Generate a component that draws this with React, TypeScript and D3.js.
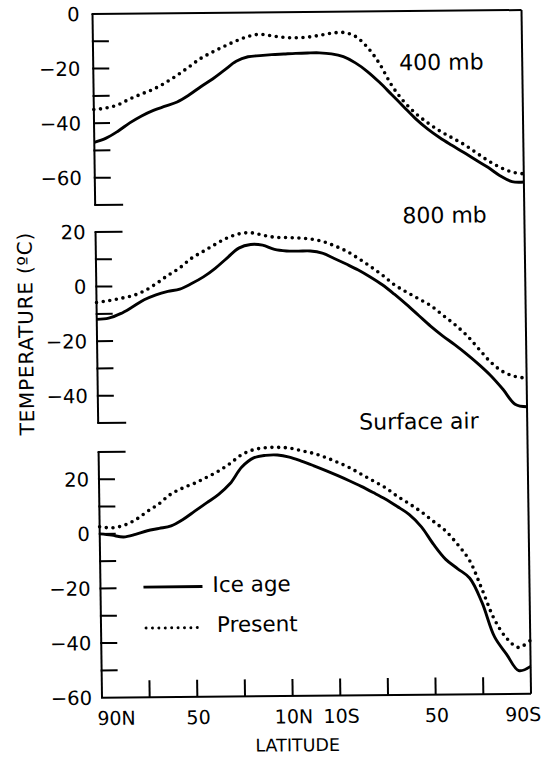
import React from 'react';
import * as d3 from 'd3';

// Zonal-mean temperature profiles, 90N -> 90S, every 5 degrees of latitude
const LATITUDES = [
  90, 85, 80, 75, 70, 65, 60, 55, 50, 45, 40, 35, 30, 25, 20, 15, 10, 5, 0,
  -5, -10, -15, -20, -25, -30, -35, -40, -45, -50, -55, -60, -65, -70, -75, -80, -85, -90,
];

// 400 mb level (°C)
const ICE_AGE_400 = [
  -47, -45.5, -43, -40, -37.5, -35.5, -34, -32.5, -30, -27, -24.2, -21, -17.8, -16.2, -15.8, -15.5, -15.3, -15.1, -15,
  -15, -15.4, -16.5, -18.8, -22, -26, -30.5, -35, -39.5, -43.3, -46.5, -49.3, -52, -54.8, -57.5, -60.6, -62.8, -63,
];
const PRESENT_400 = [
  -35, -34.5, -33.4, -31.3, -29.5, -27.8, -25.5, -22.8, -19.8, -16.7, -14.4, -12.3, -10.4, -8.8, -8, -8.6, -9.2, -9.4, -9.2,
  -8.6, -7.9, -7.6, -9, -13, -19, -27, -33, -37.5, -41, -44, -46.5, -49, -52, -55, -57.5, -59.3, -60,
];

// 800 mb level (°C)
const ICE_AGE_800 = [
  -12, -11.6, -10, -7.6, -5, -3.2, -2, -1.2, 0.8, 3.2, 6.3, 10, 13.6, 14.9, 14.6, 13, 12.4, 12.3, 12.3,
  11.5, 9.5, 7.4, 5.2, 2.6, -0.3, -3.8, -7.6, -11.6, -15.6, -19.2, -22.5, -26, -29.8, -34, -39, -44.5, -45.5,
];
const PRESENT_800 = [
  -5.8, -5.2, -4.4, -3.5, -1.8, 0.8, 3.8, 6.5, 10, 12.5, 15, 17.3, 18.8, 19.2, 18.3, 17.5, 17.3, 17.1, 16.7,
  15.8, 14.2, 12.2, 9.5, 6.5, 3.3, -0.3, -3, -5.5, -8, -11.5, -15, -19, -24, -29, -32.5, -34.3, -35,
];

// Surface air (°C)
const ICE_AGE_SURFACE = [
  0, -0.5, -1.2, -0.3, 1, 1.8, 2.7, 5, 8, 11, 14, 18, 24, 27.3, 28.2, 28.3, 27.5, 26, 24.3,
  22.5, 20.6, 18.6, 16.5, 14.2, 11.8, 9, 6, 1.5, -5, -10.5, -14, -17.5, -26.5, -39, -45.5, -51.5, -50,
];
const PRESENT_SURFACE = [
  2.6, 2.2, 3, 5, 8, 10.8, 14.3, 16.5, 18.2, 20.3, 22.5, 25.3, 28.5, 30.3, 31, 31.1, 30.8, 29.8, 28.8,
  27.3, 25.5, 23.5, 21, 18.5, 16, 12.8, 10, 7, 3.5, 0, -5, -11, -21.5, -32.5, -39.5, -43, -40.5,
];

const X_TICKS = [70, 50, 30, 10, -10, -30, -50, -70];
const X_TICK_LABELS = [
  { lat: 90, text: '90N' },
  { lat: 50, text: '50' },
  { lat: 10, text: '10N' },
  { lat: -10, text: '10S' },
  { lat: -50, text: '50' },
  { lat: -90, text: '90S' },
];

const LEVEL_NAMES = ['400 mb', '800 mb', 'Surface air'];
const LEGEND_LABELS = ['Ice age', 'Present'];

const FONT = '"DejaVu Sans", "Liberation Sans", sans-serif';
const PX_PER_DEG = 2.73;
const LEFT = 102;
const RIGHT = 531;

const x = d3.scaleLinear().domain([90, -90]).range([LEFT, RIGHT]);

type Panel = {
  name: string;
  ice: number[];
  present: number[];
  max: number;
  min: number;
  top: number;
  labels: number[];
  labelGap: number;
  nameX: number;
  nameY: number;
};

const PANELS: Panel[] = [
  { name: LEVEL_NAMES[0], ice: ICE_AGE_400, present: PRESENT_400, max: 0, min: -70, top: 14,
    labels: [0, -20, -40, -60], labelGap: 13, nameX: 408, nameY: 73 },
  { name: LEVEL_NAMES[1], ice: ICE_AGE_800, present: PRESENT_800, max: 20, min: -50, top: 232,
    labels: [20, 0, -20, -40], labelGap: 10, nameX: 409, nameY: 226 },
  { name: LEVEL_NAMES[2], ice: ICE_AGE_SURFACE, present: PRESENT_SURFACE, max: 30, min: -60, top: 452,
    labels: [20, 0, -20, -40, -60], labelGap: 10, nameX: 363, nameY: 432 },
];

const fmt = (v: number) => (v < 0 ? `\u2212${Math.abs(v)}` : `${v}`);

function PanelView({ p, isTop, isBottom }: { p: Panel; isTop: boolean; isBottom: boolean }) {
  const y = d3.scaleLinear().domain([p.max, p.min]).range([p.top, p.top + (p.max - p.min) * PX_PER_DEG]);
  const line = d3
    .line<number>()
    .x((_, i) => x(LATITUDES[i]))
    .y((d) => y(d))
    .curve(d3.curveCatmullRom.alpha(0.5));
  const ticks = d3.range(p.max, p.min - 1, -10);
  return (
    <g>
      <line x1={LEFT} x2={LEFT} y1={y(p.max)} y2={y(p.min)} stroke="#000" strokeWidth={2} />
      {ticks.map((v) => {
        let len = 16;
        if (v === p.max) len = isTop ? RIGHT - LEFT : 27;
        else if (v === p.min) len = isBottom ? RIGHT - LEFT : 28;
        return <line key={v} x1={LEFT - 1} x2={LEFT + len} y1={y(v)} y2={y(v)} stroke="#000" strokeWidth={2} />;
      })}
      {p.labels.map((v) => (
        <text key={v} x={LEFT - p.labelGap} y={y(v)} dy="0.36em" textAnchor="end" fontSize={19.5} fontFamily={FONT}>
          {fmt(v)}
        </text>
      ))}
      <path d={line(p.ice) ?? ''} fill="none" stroke="#000" strokeWidth={2.9} strokeLinejoin="round" />
      <path
        d={line(p.present) ?? ''}
        fill="none"
        stroke="#000"
        strokeWidth={3.6}
        strokeLinecap="round"
        strokeDasharray="0 6.7"
      />
      <text x={p.nameX} y={p.nameY} fontSize={22} fontFamily={FONT}>
        {p.name}
      </text>
    </g>
  );
}

export default function App() {
  const last = PANELS[PANELS.length - 1];
  const bottomY = last.top + (last.max - last.min) * PX_PER_DEG;
  return (
    <svg
      width={543}
      height={757}
      viewBox="0 0 543 757"
      style={{ position: 'absolute', left: 0, top: 0, background: '#fff' }}
    >
      {/* slight tilt of the whole drawing */}
      <g transform="matrix(1,-0.00932,0.0139,1,-9.69,0.951)">
        {PANELS.map((p, i) => (
          <PanelView key={p.name} p={p} isTop={i === 0} isBottom={i === PANELS.length - 1} />
        ))}
        <line x1={RIGHT} x2={RIGHT} y1={PANELS[0].top} y2={bottomY} stroke="#000" strokeWidth={2} />
        {X_TICKS.map((lat) => (
          <line key={lat} x1={x(lat)} x2={x(lat)} y1={bottomY} y2={bottomY - 17} stroke="#000" strokeWidth={2} />
        ))}
        {X_TICK_LABELS.map((t) => {
          const anchor = t.lat === 90 ? 'start' : t.lat === -90 ? 'end' : 'middle';
          const dx = t.lat === 90 ? -5 : t.lat === -90 ? 10 : 1;
          return (
            <text key={t.lat + t.text} x={x(t.lat) + dx} y={725} textAnchor={anchor} fontSize={19} fontFamily={FONT}>
              {t.text}
            </text>
          );
        })}
        <text x={297} y={753} textAnchor="middle" fontSize={17.5} fontFamily={FONT}>
          LATITUDE
        </text>
        <text
          transform="translate(38,333) rotate(-90)"
          textAnchor="middle"
          fontSize={20}
          letterSpacing={0.8}
          fontFamily={FONT}
        >
          TEMPERATURE (ºC)
        </text>
        {/* legend */}
        <line x1={145} x2={204} y1={587.5} y2={587.5} stroke="#000" strokeWidth={2.9} />
        <text x={214} y={593} fontSize={21.5} fontFamily={FONT}>
          {LEGEND_LABELS[0]}
        </text>
        <line
          x1={147}
          x2={204}
          y1={628.5}
          y2={628.5}
          stroke="#000"
          strokeWidth={3}
          strokeLinecap="round"
          strokeDasharray="0 6.4"
        />
        <text x={218} y={633} fontSize={21.5} fontFamily={FONT}>
          {LEGEND_LABELS[1]}
        </text>
      </g>
    </svg>
  );
}
